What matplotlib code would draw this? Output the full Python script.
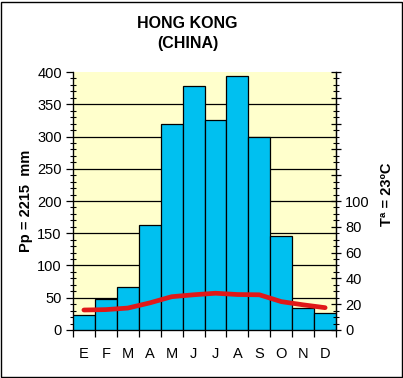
import numpy as np
import matplotlib.pyplot as plt
from matplotlib.patches import Rectangle
from matplotlib.ticker import MultipleLocator, FixedLocator

plt.rcParams['font.family'] = ['Liberation Sans', 'DejaVu Sans']

months = ["E", "F", "M", "A", "M", "J", "J", "A", "S", "O", "N", "D"]
precip = [23, 48, 67, 163, 319, 378, 325, 394, 300, 146, 34, 26]
temp = [15.5, 15.8, 17, 21, 25.8, 27.3, 28.5, 27.5, 27.3, 22, 19.5, 17.3]

fig = plt.figure(figsize=(4.03, 3.78), dpi=100)
fig.patches.append(Rectangle((0.003, 0.003), 0.994, 0.993, transform=fig.transFigure,
                             fill=False, edgecolor="black", linewidth=1))
ax = fig.add_axes([0.181, 0.127, 0.653, 0.6825])
ax.set_facecolor("#FFFFCC")

x = np.arange(len(months))
ax.bar(x, precip, width=1.0, color="#00C0F0", edgecolor="black", linewidth=0.9, zorder=3)

ax.set_xlim(-0.5, 11.5)
ax.set_ylim(0, 400)
for v in range(50, 400, 50):
    ax.axhline(v, color="black", linewidth=0.9, zorder=2)

ax.xaxis.set_major_locator(FixedLocator(np.arange(-0.5, 12, 1)))
ax.xaxis.set_minor_locator(FixedLocator(x))
ax.set_xticklabels([])
ax.set_xticklabels(months, minor=True)
ax.tick_params(axis="x", which="major", direction="out", length=5, width=0.9)
ax.tick_params(axis="x", which="minor", length=0, pad=12, labelsize=10.5)

ax.yaxis.set_major_locator(MultipleLocator(50))
ax.yaxis.set_minor_locator(MultipleLocator(10))
ax.tick_params(axis="y", which="major", direction="out", length=5, width=0.9, labelsize=10.5, pad=3)
ax.tick_params(axis="y", which="minor", direction="inout", length=5, width=0.8)

ax.spines["top"].set_visible(False)
for side in ("left", "bottom", "right"):
    ax.spines[side].set_linewidth(0.9)

ax.set_ylabel("Pp = 2215  mm", fontsize=10.5, fontweight="bold")
ax.yaxis.set_label_coords(-0.15, 0.5)

ax2 = ax.twinx()
ax2.set_ylim(0, 200)
ax2.plot(x, temp, color="#E01818", linewidth=3.4, solid_capstyle="round", zorder=5)
ax2.yaxis.set_major_locator(MultipleLocator(20))
ax2.yaxis.set_minor_locator(MultipleLocator(5))
ax2.yaxis.set_major_formatter(plt.FuncFormatter(lambda v, p: f"{v:.0f}" if v <= 100 else ""))
ax2.tick_params(axis="y", which="major", direction="inout", length=7, width=0.9, labelsize=10.5, pad=3)
ax2.tick_params(axis="y", which="minor", direction="inout", length=5, width=0.8)
ax2.spines["top"].set_visible(False)
ax2.spines["right"].set_linewidth(0.9)
ax2.set_ylabel("Tª = 23ºC", fontsize=10.5, fontweight="bold")
ax2.yaxis.set_label_coords(1.165, 0.527)

fig.text(0.465, 0.938, "HONG KONG", ha="center", va="center",
         fontsize=11.5, fontweight="bold")
fig.text(0.465, 0.885, "(CHINA)", ha="center", va="center",
         fontsize=11.5, fontweight="bold")

fig.savefig("out.png", dpi=100)
